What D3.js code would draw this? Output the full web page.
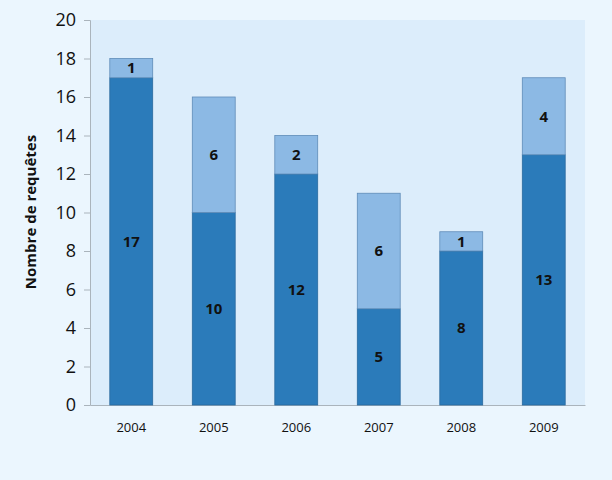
<!DOCTYPE html>
<html><head><meta charset="utf-8">
<script src="https://cdn.jsdelivr.net/npm/d3@7"></script>
<style>body{margin:0;background:#ebf6fe}</style></head>
<body><svg id="c" width="612" height="480"></svg>
<script>
const years=["2004","2005","2006","2007","2008","2009"];
const base=[17,10,12,5,8,13];
const extra=[1,6,2,6,1,4];
const yTicks=[0,2,4,6,8,10,12,14,16,18,20];
const svg=d3.select("#c");
svg.append("rect").attr("width",612).attr("height",480).attr("fill","#ebf6fe");
const L=90,R=585,T=20,B=405;
svg.append("rect").attr("x",L).attr("y",T).attr("width",R-L).attr("height",B-T).attr("fill","#dcedfb");
const x=d3.scaleBand().domain(years).range([L,R]).paddingInner(0.48).paddingOuter(0.24);
const y=d3.scaleLinear().domain([0,20]).range([B,T]);
const ya=svg.append("g").attr("transform",`translate(${L},0)`).call(d3.axisLeft(y).tickValues(yTicks).tickSize(6).tickPadding(8));
ya.selectAll("text").attr("font-family","Open Sans, Liberation Sans, sans-serif").attr("font-size",18).attr("fill","#111");
ya.selectAll("line,path").attr("stroke","#aab4bc");
const xa=svg.append("g").attr("transform",`translate(0,${B})`).call(d3.axisBottom(x).tickSize(0).tickPadding(18));
xa.selectAll("text").attr("font-family","Open Sans, Liberation Sans, sans-serif").attr("font-size",13).attr("fill","#111");
xa.select("path").attr("stroke","#aab4bc");
const g=svg.append("g");
years.forEach((yr,i)=>{
  const bx=x(yr),w=x.bandwidth();
  g.append("rect").attr("x",bx).attr("y",y(base[i])).attr("width",w).attr("height",y(0)-y(base[i])).attr("fill","#2b7bba").attr("stroke","#2a6a9e").attr("stroke-width",0.8);
  g.append("rect").attr("x",bx).attr("y",y(base[i]+extra[i])).attr("width",w).attr("height",y(base[i])-y(base[i]+extra[i])).attr("fill","#8cb9e4").attr("stroke","#5f8cb8").attr("stroke-width",0.8);
  const lab=(v,cy)=>g.append("text").attr("x",bx+w/2).attr("y",cy).attr("dy","0.35em").attr("text-anchor","middle").attr("font-family","Open Sans, Liberation Sans, sans-serif").attr("font-weight","bold").attr("font-size",15).attr("fill","#111").text(v);
  lab(base[i],y(base[i]/2));
  lab(extra[i],y(base[i]+extra[i]/2));
});
svg.append("text").attr("transform","translate(36,212) rotate(-90)").attr("text-anchor","middle").attr("font-family","Open Sans, Liberation Sans, sans-serif").attr("font-weight","bold").attr("font-size",15).attr("fill","#111").text("Nombre de requêtes");
</script></body></html>
